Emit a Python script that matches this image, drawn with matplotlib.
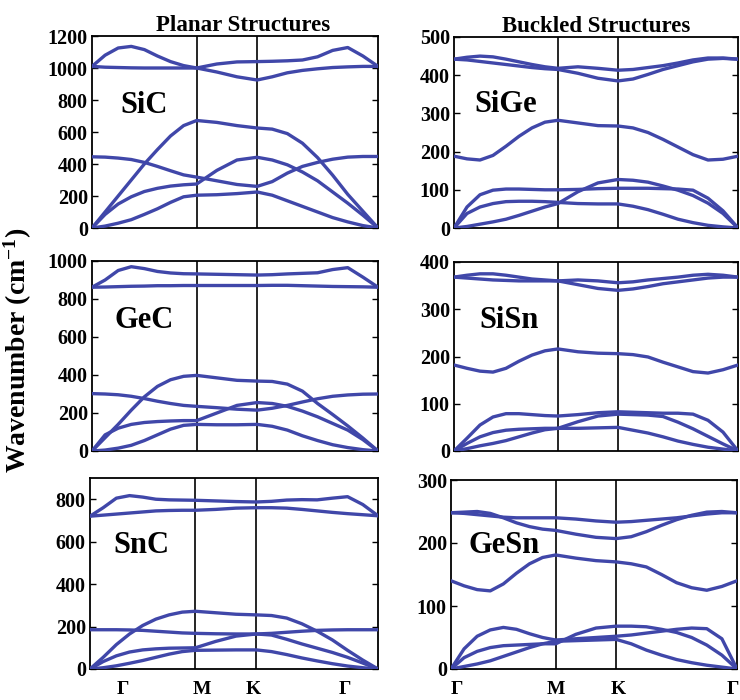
import numpy as np
import matplotlib
matplotlib.use("Agg")
import matplotlib.pyplot as plt

plt.rcParams['font.family'] = ['Liberation Serif', 'DejaVu Serif']
plt.rcParams['font.weight'] = 'bold'
plt.rcParams['mathtext.fontset'] = 'custom'
plt.rcParams['mathtext.rm'] = 'Liberation Serif:bold'
plt.rcParams['mathtext.bf'] = 'Liberation Serif:bold'
plt.rcParams['mathtext.default'] = 'bf'

# Path Γ-M-K-Γ: 8 steps on Γ-M, 3 on M-K, 8 on K-Γ (20 q-points per branch)
seg_len = [np.sqrt(3) / 2, 0.5, 1.0]
q_path = np.concatenate([
    np.linspace(0, seg_len[0], 9),
    np.linspace(seg_len[0], seg_len[0] + seg_len[1], 4)[1:],
    np.linspace(seg_len[0] + seg_len[1], sum(seg_len), 9)[1:],
])
q_M = seg_len[0]
q_K = seg_len[0] + seg_len[1]
q_end = sum(seg_len)

# Phonon branches (cm^-1) along Γ-M-K-Γ
sic = [
    [0, 12, 30, 52, 85, 120, 160, 195, 205, 208, 215, 225, 205, 170, 135, 100, 65, 38, 15, 0],
    [0, 85, 150, 195, 228, 248, 262, 270, 275, 360, 425, 442, 425, 395, 350, 295, 225, 155, 80, 0],
    [0, 100, 200, 300, 400, 490, 575, 640, 672, 660, 640, 625, 618, 590, 530, 440, 330, 210, 105, 0],
    [445, 443, 437, 428, 410, 385, 358, 332, 318, 295, 272, 260, 290, 343, 385, 410, 430, 443, 447, 447],
    [1010, 1005, 1003, 1001, 1000, 1000, 1000, 1000, 1000, 1025, 1038, 1040, 1042, 1045, 1050, 1070, 1110, 1128, 1075, 1010],
    [1010, 1080, 1125, 1135, 1115, 1075, 1040, 1015, 1000, 975, 945, 925, 945, 970, 985, 995, 1003, 1007, 1010, 1010],
]
sige = [
    [0, 4, 10, 16, 23, 33, 44, 55, 64, 95, 118, 127, 125, 120, 110, 99, 85, 65, 38, 0],
    [0, 38, 55, 64, 69, 70, 70, 69, 67, 64, 63, 63, 57, 48, 36, 23, 14, 7, 3, 0],
    [0, 55, 87, 99, 102, 102, 101, 100, 100, 101, 103, 104, 104, 104, 103, 102, 99, 78, 45, 0],
    [188, 181, 178, 190, 214, 240, 262, 277, 282, 275, 268, 267, 262, 250, 232, 212, 192, 178, 180, 188],
    [442, 447, 450, 448, 442, 435, 428, 422, 418, 422, 418, 413, 415, 420, 425, 432, 440, 445, 445, 442],
    [442, 440, 436, 432, 428, 424, 420, 417, 415, 405, 392, 385, 390, 402, 415, 425, 435, 442, 444, 442],
]
gec = [
    [0, 5, 15, 30, 55, 85, 115, 135, 140, 138, 138, 140, 130, 110, 80, 55, 33, 18, 7, 0],
    [0, 85, 120, 140, 150, 155, 158, 160, 160, 200, 240, 255, 250, 235, 210, 180, 145, 110, 60, 0],
    [0, 70, 140, 215, 285, 340, 375, 393, 398, 385, 372, 368, 366, 352, 315, 250, 192, 132, 68, 0],
    [302, 300, 296, 288, 276, 262, 250, 240, 235, 228, 220, 215, 225, 240, 258, 275, 288, 295, 299, 300],
    [862, 863, 865, 867, 868, 870, 870, 871, 871, 871, 871, 871, 872, 872, 870, 868, 866, 865, 864, 862],
    [862, 900, 950, 970, 960, 945, 937, 933, 932, 930, 928, 926, 928, 932, 935, 938, 955, 965, 915, 862],
]
sisn = [
    [0, 5, 11, 16, 22, 30, 38, 45, 48, 62, 74, 78, 77, 76, 73, 61, 47, 31, 15, 0],
    [0, 16, 30, 39, 44, 46, 47, 48, 48, 48, 49, 50, 44, 38, 30, 21, 14, 8, 4, 0],
    [0, 27, 55, 72, 79, 79, 77, 75, 74, 77, 81, 83, 82, 81, 80, 80, 78, 65, 40, 0],
    [182, 175, 169, 167, 175, 190, 203, 212, 216, 210, 207, 206, 204, 199, 188, 178, 168, 165, 172, 182],
    [368, 366, 364, 362, 361, 360, 360, 360, 360, 352, 344, 340, 343, 348, 354, 358, 362, 366, 368, 368],
    [368, 372, 375, 375, 372, 368, 364, 362, 360, 362, 360, 356, 358, 362, 365, 368, 372, 374, 372, 368],
]
snc = [
    [0, 6, 15, 27, 40, 55, 70, 82, 88, 89, 90, 90, 82, 68, 52, 38, 25, 14, 6, 0],
    [0, 35, 62, 80, 90, 95, 98, 99, 100, 130, 155, 165, 160, 140, 118, 98, 78, 55, 28, 0],
    [0, 55, 115, 165, 205, 235, 255, 268, 272, 265, 258, 255, 252, 240, 213, 178, 137, 88, 42, 0],
    [185, 185, 185, 184, 182, 178, 174, 170, 168, 166, 165, 165, 168, 173, 178, 182, 184, 185, 185, 185],
    [720, 725, 730, 735, 740, 745, 747, 748, 748, 752, 758, 760, 760, 758, 752, 745, 738, 732, 727, 722],
    [720, 760, 805, 817, 810, 800, 797, 796, 795, 792, 789, 787, 790, 796, 798, 797, 805, 812, 775, 722],
]
gesn = [
    [0, 4, 8, 13, 20, 27, 34, 40, 44, 45, 46, 47, 40, 30, 22, 15, 10, 6, 3, 0],
    [0, 18, 28, 34, 37, 38, 39, 40, 40, 55, 65, 68, 68, 67, 63, 58, 50, 38, 22, 0],
    [0, 32, 52, 62, 66, 63, 56, 50, 46, 48, 50, 52, 54, 57, 60, 63, 65, 64, 48, 0],
    [140, 132, 126, 124, 135, 152, 167, 177, 181, 176, 172, 170, 167, 162, 150, 137, 129, 125, 131, 140],
    [248, 247, 245, 243, 241, 240, 240, 240, 240, 238, 235, 233, 234, 236, 238, 240, 243, 246, 248, 248],
    [248, 249, 250, 247, 240, 232, 226, 222, 220, 214, 209, 207, 210, 218, 228, 237, 244, 249, 250, 248],
]

names = ["SiC", "SiGe", "GeC", "SiSn", "SnC", "GeSn"]
bands = [sic, sige, gec, sisn, snc, gesn]
y_max = [1200, 500, 1000, 400, 900, 300]
y_step = [200, 100, 200, 100, 200, 100]
col_titles = ["Planar Structures", "Buckled Structures"]
kpt_labels = ["Γ", "M", "K", "Γ"]

line_color = "#4047a9"

# axes boxes in pixels: left, top, right, bottom
W, H = 740, 700
boxes = [
    (92, 36, 378, 228), (454, 37, 738, 228),
    (92, 261, 378, 451), (454, 262, 738, 451),
    (90, 478, 378, 669), (451, 480, 737, 669),
]
label_pos = [(0.098, 0.60), (0.07, 0.607), (0.08, 0.647),
             (0.088, 0.65), (0.08, 0.607), (0.06, 0.614)]
title_x = [0.528, 0.5]
# x positions of the path labels under each bottom panel
kpt_ticks = {4: [0.27, 0.92, 1.34, 2.095], 5: [0.05, 0.87, 1.38, 2.33]}

fig = plt.figure(figsize=(W / 100, H / 100), dpi=100)
for i, (name, br) in enumerate(zip(names, bands)):
    l, t, r, b = boxes[i]
    ax = fig.add_axes([l / W, 1 - b / H, (r - l) / W, (b - t) / H])
    for branch in br:
        ax.plot(q_path, branch, color=line_color, lw=2.4, solid_capstyle='round', zorder=3)
    for qv in (q_M, q_K):
        ax.axvline(qv, color='black', lw=1.2, zorder=2)
    ax.set_xlim(0, q_end)
    ax.set_ylim(0, y_max[i])
    ax.set_yticks(np.arange(0, y_max[i] + 1, y_step[i]))
    ax.tick_params(axis='y', direction='in', length=4, width=1.0, left=True, right=True,
                   labelsize=14.5, pad=3)
    for lab in ax.get_yticklabels():
        lab.set_fontweight('bold')
    if i in kpt_ticks:
        ax.set_xticks(kpt_ticks[i])
        ax.set_xticklabels(kpt_labels, fontsize=14, fontweight='bold')
        ax.tick_params(axis='x', length=0, pad=9)
    else:
        ax.set_xticks([])
    for sp in ax.spines.values():
        sp.set_linewidth(1.3)
    ax.text(label_pos[i][0], label_pos[i][1], name, transform=ax.transAxes,
            fontsize=22, fontweight='bold', va='baseline', ha='left')
    if i < 2:
        ax.set_title(col_titles[i], fontsize=16.5, fontweight='bold', pad=3, x=title_x[i])

fig.text(18 / W, 1 - 350 / H, r"Wavenumber (cm$^{-1}$)", rotation=90,
         fontsize=20, fontweight='bold', ha='center', va='center')

fig.savefig("out.png", dpi=100)
